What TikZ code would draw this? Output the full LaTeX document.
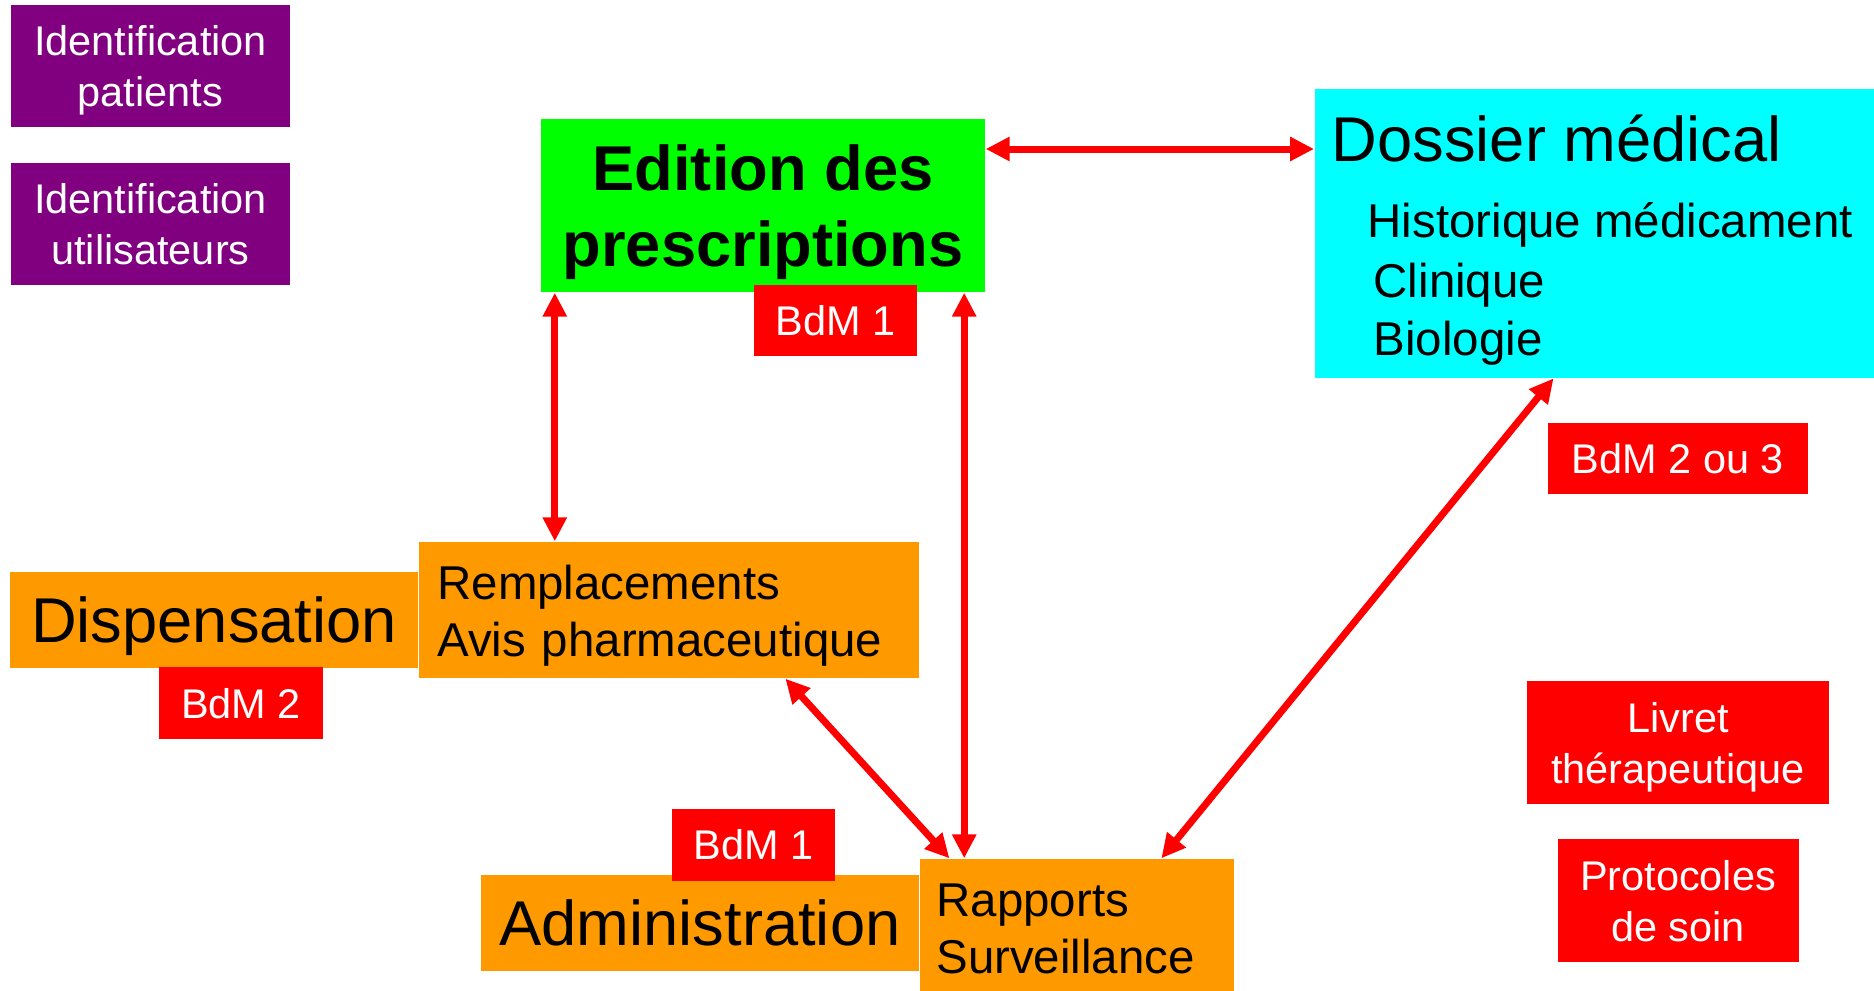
\documentclass[tikz,border=0pt]{standalone}
\usepackage{fontspec}
\setmainfont{Liberation Sans}
\usetikzlibrary{positioning,arrows.meta}
\definecolor{idviolet}{HTML}{800080}
\definecolor{vertpresc}{HTML}{00FF00}
\definecolor{cyandossier}{HTML}{00FFFF}
\definecolor{orangemod}{HTML}{FF9900}
\definecolor{rougebdm}{HTML}{FF0000}
\newcommand{\fontpetit}{\fontsize{11.8}{14.5}\selectfont}
\newcommand{\fontmoyen}{\fontsize{13.5}{16.2}\selectfont}
\newcommand{\fontgrand}{\fontsize{18}{21.6}\selectfont}
\begin{document}
\begin{tikzpicture}[
    boite/.style={shape=rectangle, inner sep=0pt, align=center},
    idboite/.style={boite, fill=idviolet, text=white, font=\fontpetit, text depth=0pt, minimum width=2.79cm, minimum height=1.22cm},
    bdm/.style={boite, fill=rougebdm, text=white, font=\fontpetit, text depth=0pt, minimum height=0.71cm},
    module/.style={boite, fill=orangemod, font=\fontgrand, text depth=0pt, minimum height=0.96cm},
    detail/.style={boite, fill=orangemod, font=\fontmoyen, align=left},
    lien/.style={draw=rougebdm, line width=0.07cm, {Triangle[length=0.24cm,width=0.23cm]}-{Triangle[length=0.24cm,width=0.23cm]}}
]
    \useasboundingbox (0,0) rectangle (18.74,-9.90);
    % identification
    \node[idboite] (idpat) at (1.505,-0.66) {Identification\\patients};
    \node[idboite, below=0.35cm of idpat] (idutil) {Identification\\utilisateurs};
    % prescription et dossier
    \node[boite, fill=vertpresc, font=\fontgrand\bfseries, text depth=0pt, minimum width=4.44cm, minimum height=1.73cm] (edition) at (7.63,-2.055) {Edition des\\prescriptions};
    \node[bdm, minimum width=1.63cm, below=-0.08cm of edition, xshift=0.725cm] (bdmhaut) {BdM 1};
    \node[boite, fill=cyandossier, anchor=north west, minimum width=5.86cm, minimum height=2.89cm] (dossier) at (13.14,-0.88) {};
    \node[anchor=base west, inner sep=0pt, font=\fontgrand] (dossiertitre) at ([xshift=0.17cm, yshift=-0.73cm]dossier.north west) {Dossier médical};
    \node[anchor=base west, inner sep=0pt, font=\fontmoyen] (historique) at ([xshift=0.53cm, yshift=-1.49cm]dossier.north west) {Historique médicament};
    \node[anchor=base west, inner sep=0pt, font=\fontmoyen] (clinique) at ([xshift=0.59cm, yshift=-2.09cm]dossier.north west) {Clinique};
    \node[anchor=base west, inner sep=0pt, font=\fontmoyen] (biologie) at ([xshift=0.59cm, yshift=-2.67cm]dossier.north west) {Biologie};
    \node[bdm, minimum width=2.60cm] (bdmdossier) at (16.78,-4.585) {BdM 2 ou 3};
    % dispensation
    \node[module, minimum width=4.08cm] (dispensation) at (2.14,-6.20) {Dispensation};
    \node[detail, text width=4.64cm, inner xsep=0.18cm, text depth=0.55cm, minimum height=1.36cm, right=0cm of dispensation, yshift=0.10cm] (remplacements) {Remplacements\\Avis pharmaceutique};
    \node[bdm, minimum width=1.64cm, minimum height=0.72cm, below=-0.02cm of dispensation, xshift=0.27cm] (bdmdisp) {BdM 2};
    % administration
    \node[module, minimum width=4.38cm] (administration) at (7.00,-9.23) {Administration};
    \node[detail, text width=2.82cm, inner xsep=0.16cm, minimum height=1.40cm, right=0cm of administration, yshift=-0.06cm] (rapports) {Rapports\\Surveillance};
    \node[bdm, minimum width=1.63cm, minimum height=0.72cm, above=-0.07cm of administration, xshift=0.535cm] (bdmadmin) {BdM 1};
    % referentiels
    \node[bdm, minimum width=3.02cm, minimum height=1.23cm] (livret) at (16.78,-7.425) {Livret\\thérapeutique};
    \node[bdm, minimum width=2.41cm, minimum height=1.23cm, below=0.34cm of livret] (protocoles) {Protocoles\\de soin};
    % liens
    \draw[lien] ([yshift=0.565cm]edition.east) -- ([yshift=0.565cm]edition.east -| dossier.west);
    \draw[lien] ([xshift=0.145cm]edition.south west) -- ([xshift=0.145cm]edition.south west |- remplacements.north);
    \draw[lien] ([xshift=-0.215cm]edition.south east) -- ([xshift=-0.215cm]edition.south east |- rapports.north);
    \draw[lien] ([xshift=1.16cm]remplacements.south) -- ([xshift=-1.28cm]rapports.north);
    \draw[lien] ([xshift=2.395cm]dossier.south west) -- ([xshift=0.84cm]rapports.north);
\end{tikzpicture}
\end{document}
